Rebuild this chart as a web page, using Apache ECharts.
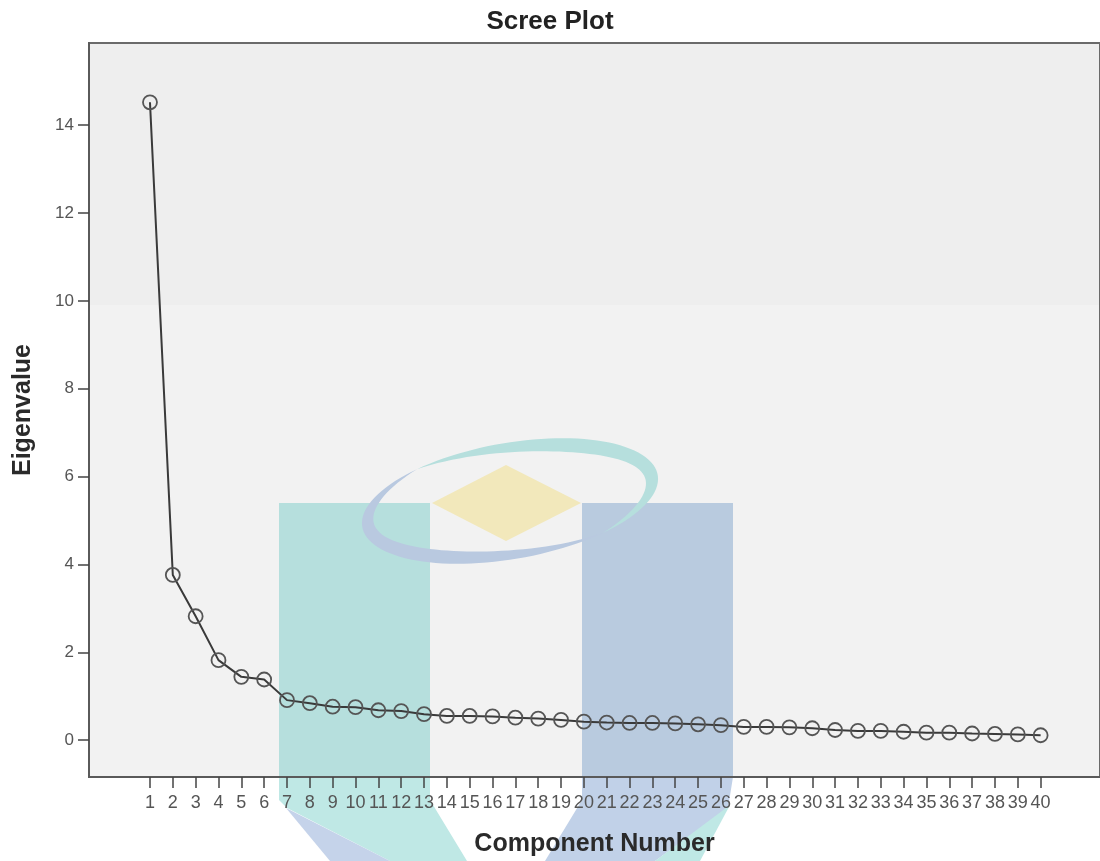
<!DOCTYPE html>
<html>
<head>
<meta charset="utf-8">
<title>Scree Plot</title>
<script src="https://cdn.jsdelivr.net/npm/echarts@6/dist/echarts.min.js"></script>
<style>
   html, body { margin: 0; padding: 0; background: #fff; }
   #chartWrapper { width: 1100px; height: 861px; }
</style>
</head>
<body>
<div id="chartWrapper"></div>
<script>
// component numbers and eigenvalues
var components = [];
for (var c = 1; c <= 40; c++) components.push(c);

var eigenvalues = [
   14.52, 3.76, 2.82, 1.82, 1.44, 1.38, 0.91, 0.84, 0.76, 0.75,
   0.68, 0.66, 0.59, 0.55, 0.55, 0.54, 0.51, 0.49, 0.46, 0.42,
   0.40, 0.39, 0.39, 0.38, 0.36, 0.34, 0.30, 0.30, 0.29, 0.27,
   0.23, 0.21, 0.21, 0.19, 0.17, 0.17, 0.15, 0.14, 0.13, 0.11
];

var yTicks = [0, 2, 4, 6, 8, 10, 12, 14];

var FONT = '"Liberation Sans", Arial, sans-serif';

// crescent shaped arc of the watermark logo (decoration only)
var crescent = function(cx, cy, rx, ry, t0, t1, thick, rot) {
   var outer = [], inner = [];
   var n = 60;
   var cr = Math.cos(rot), sr = Math.sin(rot);
   for (var i = 0; i <= n; i++) {
      var f = i / n;
      var t = t0 + (t1 - t0) * f;
      var w = thick * Math.sin(Math.PI * f);
      var ox = rx * Math.cos(t), oy = ry * Math.sin(t);
      var ix = (rx - w) * Math.cos(t), iy = (ry - w) * Math.sin(t);
      outer.push([cx + ox * cr - oy * sr, cy + ox * sr + oy * cr]);
      inner.unshift([cx + ix * cr - iy * sr, cy + ix * sr + iy * cr]);
   }
   return outer.concat(inner);
};

var deg = Math.PI / 180;

var watermark = [
   { type: 'rect', z: -20, shape: { x: 89, y: 43, width: 1011, height: 262 }, style: { fill: '#eeeeee' } },
   { type: 'rect', z: -20, shape: { x: 89, y: 305, width: 1011, height: 472 }, style: { fill: '#f2f2f2' } },
   { type: 'rect', z: -10, shape: { x: 279, y: 503, width: 151, height: 274 }, style: { fill: '#b6dfdd' } },
   { type: 'rect', z: -10, shape: { x: 582, y: 503, width: 151, height: 274 }, style: { fill: '#b9cbdf' } },
   { type: 'polygon', z: -10, shape: { points: [[506, 465], [581, 503], [506, 541], [432, 503]] }, style: { fill: '#f2e8bb' } },
   { type: 'polygon', z: -10, shape: { points: crescent(510, 501, 150, 58, -125 * deg, 55 * deg, 16, -10 * deg) }, style: { fill: '#b6dfdd' } },
   { type: 'polygon', z: -10, shape: { points: crescent(510, 501, 150, 58, 55 * deg, 235 * deg, 15, -10 * deg) }, style: { fill: '#b9c9e0' } },
   { type: 'polygon', z: -10, shape: { points: [[279, 777], [430, 777], [430, 800], [467, 861], [390, 861], [287, 808], [279, 800]] }, style: { fill: '#bfe8e5' } },
   { type: 'polygon', z: -10, shape: { points: [[286, 808], [390, 861], [330, 861]] }, style: { fill: '#c5d3ea' } },
   { type: 'polygon', z: -10, shape: { points: [[582, 777], [733, 777], [728, 808], [655, 861], [545, 861], [582, 800]] }, style: { fill: '#c1d1e8' } },
   { type: 'polygon', z: -10, shape: { points: [[730, 805], [700, 861], [655, 861]] }, style: { fill: '#bfe8e5' } }
];

var iChart = echarts.init(document.getElementById('chartWrapper'));

var option = {
   backgroundColor: '#ffffff',
   animation: false,
   title: {
      text: 'Scree Plot',
      left: 'center',
      top: 4,
      textStyle: { fontFamily: FONT, fontSize: 26, fontWeight: 'bold', color: '#222' }
   },
   graphic: { elements: watermark },
   grid: {
      left: 89,
      right: 0,
      top: 43,
      bottom: 84,
      outerBoundsMode: 'none',
      containLabel: false,
      show: true,
      backgroundColor: 'transparent',
      borderColor: '#6a6a6a',
      borderWidth: 2
   },
   xAxis: {
      type: 'value',
      min: -1.67,
      max: 42.6,
      name: 'Component Number',
      nameLocation: 'middle',
      nameGap: 55,
      nameTextStyle: { fontFamily: FONT, fontSize: 25, fontWeight: 'bold', color: '#2a2a2a' },
      splitLine: { show: false },
      axisLine: { onZero: false, lineStyle: { color: '#5a5a5a', width: 2 } },
      axisTick: { show: true, length: 11, customValues: components, lineStyle: { color: '#444', width: 1.5 } },
      axisLabel: { customValues: components, margin: 17, fontFamily: FONT, fontSize: 18, color: '#555' }
   },
   yAxis: {
      type: 'value',
      min: -0.84,
      max: 15.87,
      name: 'Eigenvalue',
      nameLocation: 'middle',
      nameGap: 53,
      nameTextStyle: { fontFamily: FONT, fontSize: 25, fontWeight: 'bold', color: '#2a2a2a' },
      splitLine: { show: false },
      axisLine: { show: true, onZero: false, lineStyle: { color: '#5a5a5a', width: 2 } },
      axisTick: { show: true, length: 11, customValues: yTicks, lineStyle: { color: '#444', width: 1.5 } },
      axisLabel: { customValues: yTicks, margin: 15, fontFamily: FONT, fontSize: 17, color: '#555' }
   },
   series: [{
      type: 'line',
      data: components.map(function(c, i) { return [c, eigenvalues[i]]; }),
      symbol: 'circle',
      symbolSize: 14,
      lineStyle: { color: '#3a3a3a', width: 2 },
      itemStyle: { color: 'rgba(0,0,0,0)', borderColor: '#555', borderWidth: 1.8 }
   }]
};

iChart.setOption(option);
</script>
</body>
</html>
